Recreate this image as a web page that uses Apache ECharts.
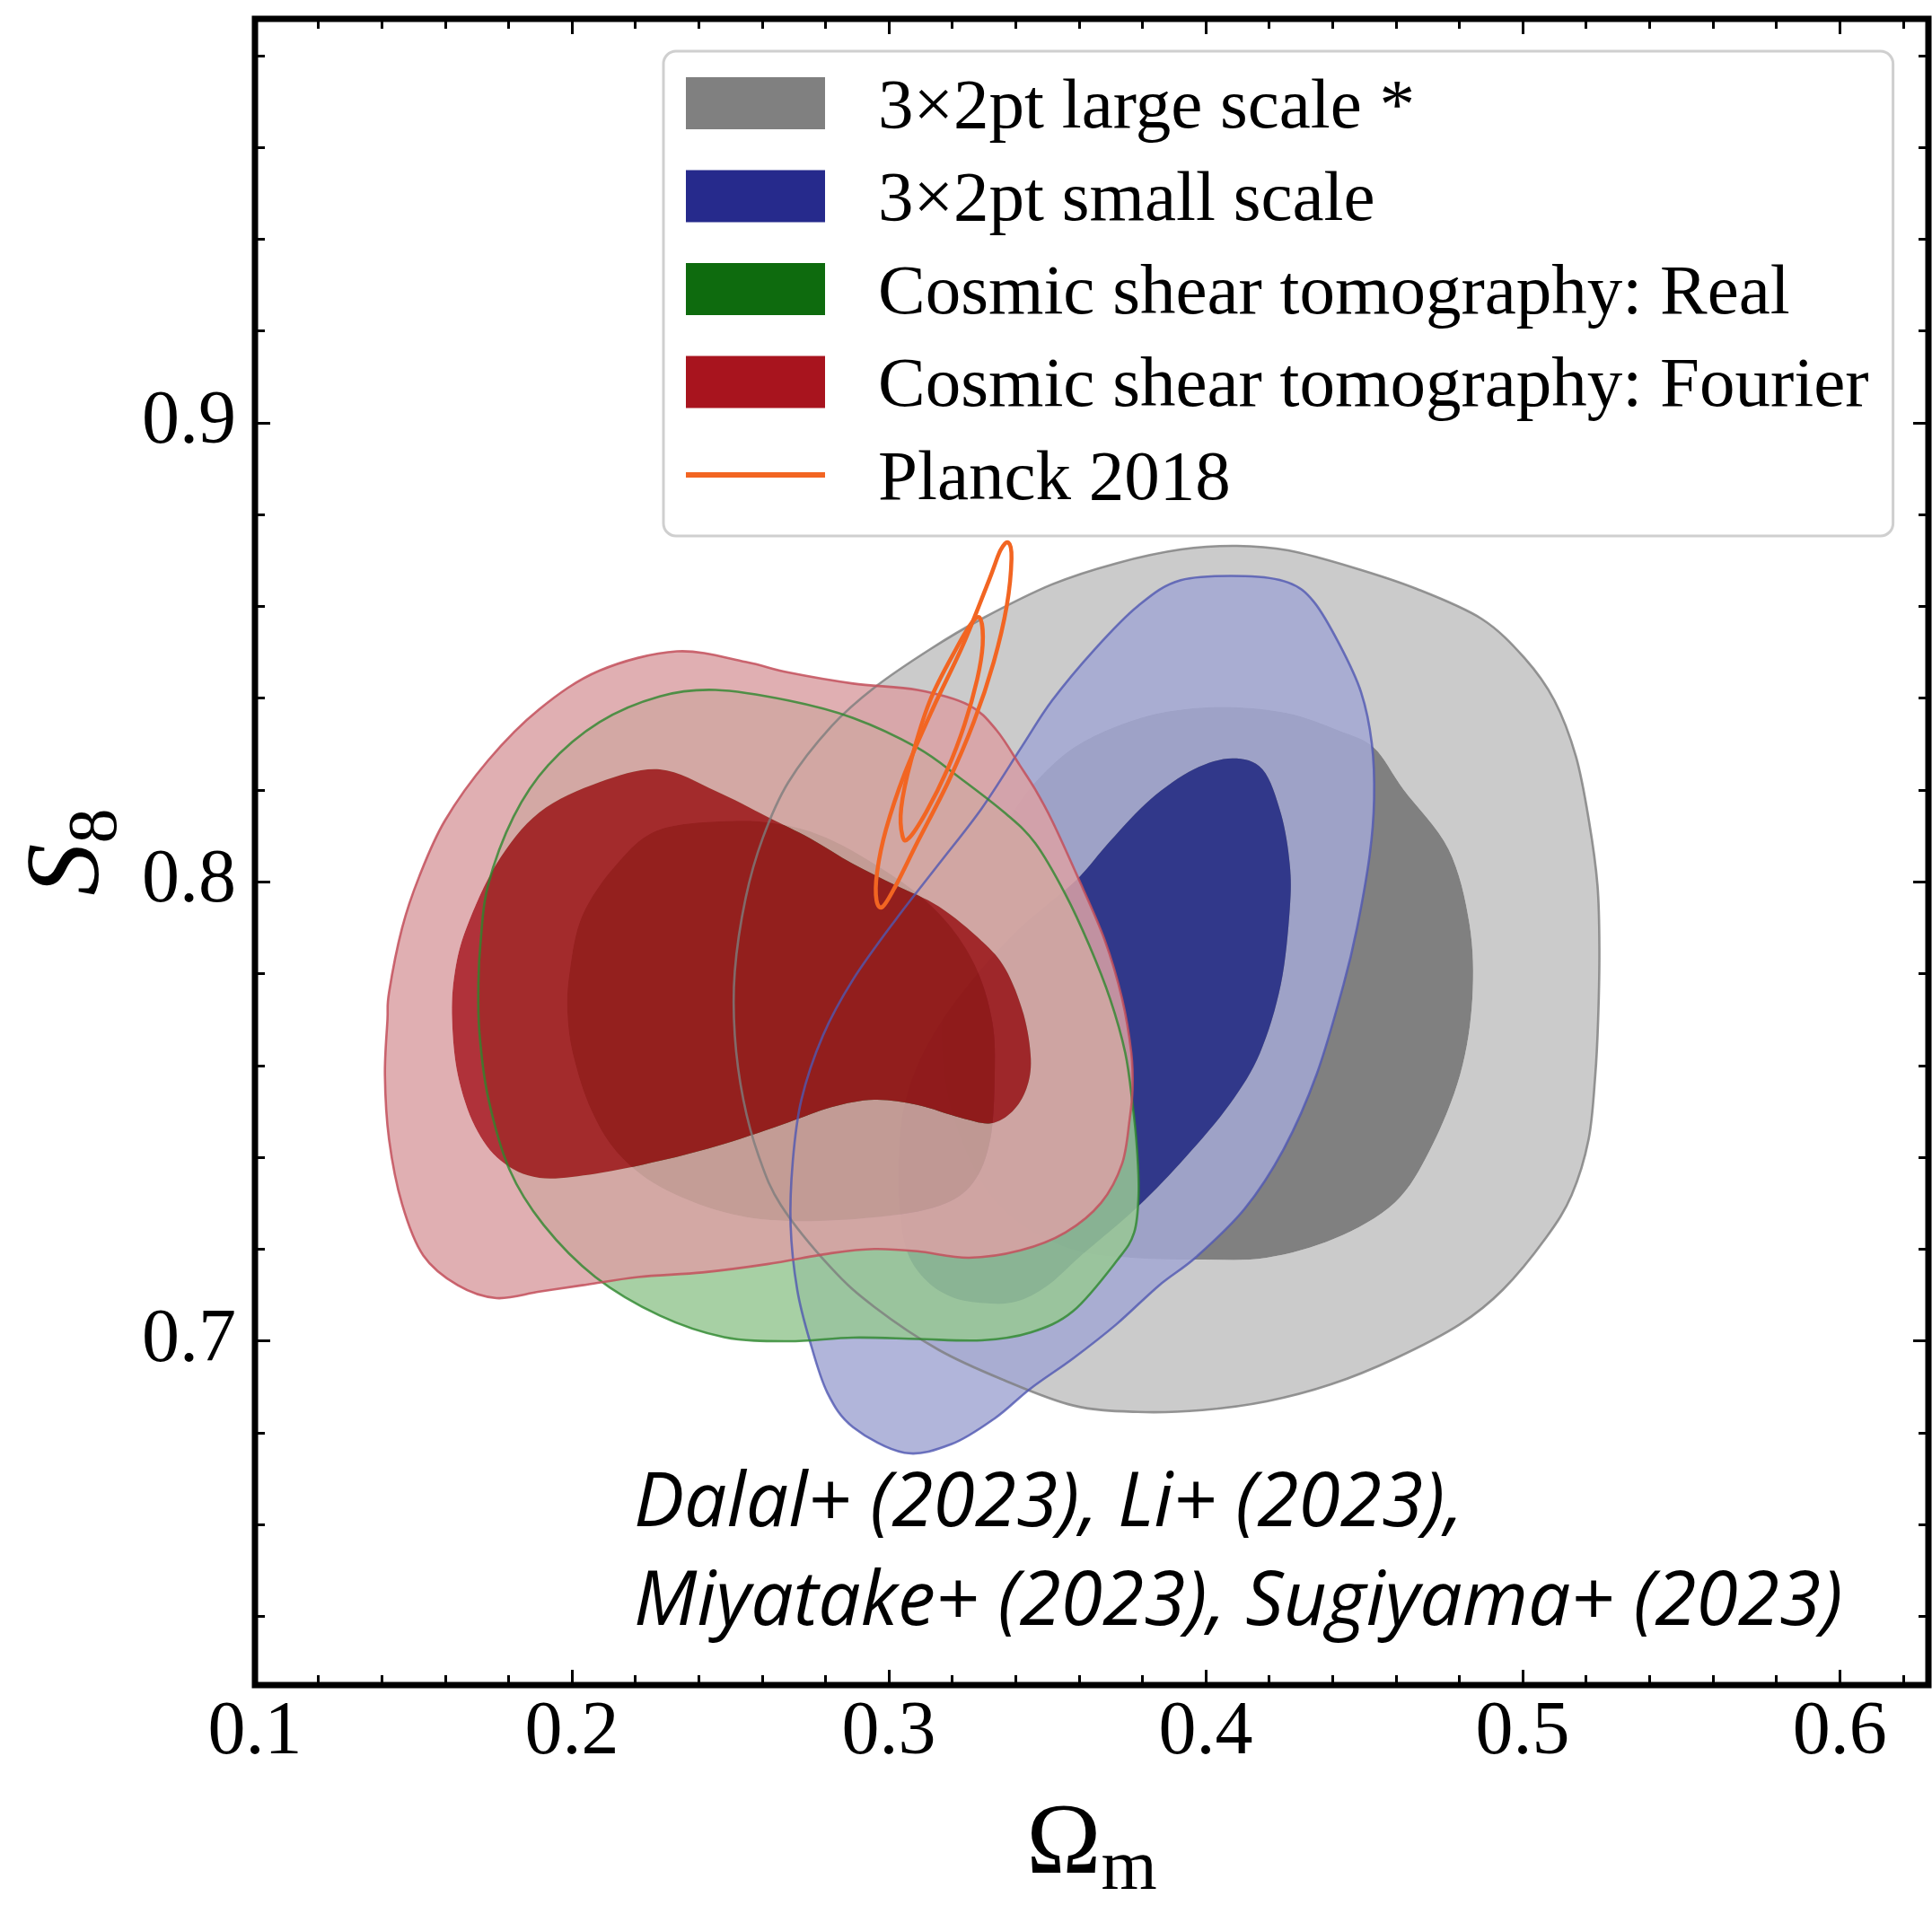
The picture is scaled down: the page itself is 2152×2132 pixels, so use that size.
<!DOCTYPE html>
<html>
<head>
<meta charset="utf-8">
<script src="https://cdn.jsdelivr.net/npm/echarts@6/dist/echarts.min.js"></script>
<style>
html,body{margin:0;padding:0;background:#fff;}
#chart{width:2152px;height:2132px;}
</style>
</head>
<body>
<div id="chart"></div>
<script>
// ---------- data (Omega_m, S8) ----------
const seriesNames = [
  '3×2pt large scale *',
  '3×2pt small scale',
  'Cosmic shear tomography: Real',
  'Cosmic shear tomography: Fourier',
  'Planck 2018'
];

const xMajorTicks = [0.1, 0.2, 0.3, 0.4, 0.5, 0.6];
const xMinorTicks = [0.12,0.14,0.16,0.18,0.22,0.24,0.26,0.28,0.32,0.34,0.36,0.38,0.42,0.44,0.46,0.48,0.52,0.54,0.56,0.58,0.62];
const yMajorTicks = [0.7, 0.8, 0.9];
const yMinorTicks = [0.64,0.66,0.68,0.72,0.74,0.76,0.78,0.82,0.84,0.86,0.88,0.92,0.94,0.96,0.98];

const largeOuter = [[0.4097,0.8732],[0.3921,0.8724],[0.3718,0.8694],[0.3515,0.8648],[0.3293,0.8573],[0.3131,0.8507],[0.2954,0.8423],[0.2819,0.8339],[0.2683,0.8217],[0.2602,0.8095],[0.2548,0.7964],[0.2514,0.7805],[0.2514,0.7665],[0.2541,0.7525],[0.2589,0.7403],[0.2660,0.7295],[0.2819,0.7158],[0.2954,0.7074],[0.3158,0.6980],[0.3361,0.6915],[0.3582,0.6859],[0.3785,0.6845],[0.3989,0.6849],[0.4192,0.6868],[0.4395,0.6905],[0.4599,0.6962],[0.4802,0.7036],[0.4937,0.7111],[0.5073,0.7224],[0.5154,0.7317],[0.5208,0.7439],[0.5229,0.7579],[0.5238,0.7700],[0.5242,0.7852],[0.5236,0.7992],[0.5209,0.8133],[0.5168,0.8273],[0.5100,0.8395],[0.5005,0.8488],[0.4870,0.8573],[0.4666,0.8638],[0.4463,0.8685],[0.4260,0.8722]];
const largeInner = [[0.4070,0.8381],[0.4260,0.8367],[0.4422,0.8329],[0.4531,0.8292],[0.4624,0.8201],[0.4766,0.8071],[0.4832,0.7908],[0.4841,0.7745],[0.4803,0.7581],[0.4709,0.7418],[0.4596,0.7301],[0.4407,0.7223],[0.4192,0.7181],[0.3989,0.7177],[0.3780,0.7180],[0.3600,0.7195],[0.3450,0.7240],[0.3330,0.7310],[0.3240,0.7420],[0.3180,0.7560],[0.3170,0.7720],[0.3210,0.7880],[0.3300,0.8040],[0.3400,0.8160],[0.3474,0.8226],[0.3582,0.8292],[0.3718,0.8339],[0.3880,0.8371]];

const smallOuter = [[0.4124,0.8666],[0.4260,0.8652],[0.4341,0.8610],[0.4422,0.8517],[0.4490,0.8413],[0.4524,0.8301],[0.4531,0.8180],[0.4517,0.8058],[0.4477,0.7899],[0.4435,0.7777],[0.4350,0.7581],[0.4246,0.7418],[0.4123,0.7288],[0.3972,0.7184],[0.3853,0.7121],[0.3718,0.7036],[0.3582,0.6962],[0.3447,0.6896],[0.3334,0.6831],[0.3198,0.6775],[0.3049,0.6756],[0.2887,0.6812],[0.2806,0.6887],[0.2751,0.6999],[0.2711,0.7111],[0.2690,0.7252],[0.2697,0.7392],[0.2724,0.7525],[0.2792,0.7665],[0.2887,0.7787],[0.3022,0.7918],[0.3158,0.8039],[0.3293,0.8160],[0.3420,0.8295],[0.3515,0.8395],[0.3650,0.8507],[0.3786,0.8601],[0.3921,0.8657]];
const smallInner = [[0.4084,0.8269],[0.4179,0.8245],[0.4237,0.8149],[0.4265,0.8038],[0.4265,0.7940],[0.4237,0.7777],[0.4171,0.7627],[0.4076,0.7516],[0.3935,0.7399],[0.3788,0.7294],[0.3604,0.7184],[0.3500,0.7120],[0.3400,0.7085],[0.3300,0.7082],[0.3200,0.7095],[0.3120,0.7130],[0.3060,0.7190],[0.3035,0.7280],[0.3032,0.7400],[0.3045,0.7500],[0.3090,0.7600],[0.3170,0.7700],[0.3280,0.7800],[0.3400,0.7890],[0.3500,0.7950],[0.3599,0.8009],[0.3700,0.8090],[0.3826,0.8180],[0.3962,0.8245]];

const realOuter = [[0.2453,0.8418],[0.2683,0.8395],[0.2887,0.8357],[0.3090,0.8292],[0.3225,0.8226],[0.3368,0.8149],[0.3462,0.8084],[0.3557,0.7973],[0.3632,0.7862],[0.3698,0.7745],[0.3746,0.7627],[0.3769,0.7516],[0.3783,0.7418],[0.3788,0.7321],[0.3774,0.7236],[0.3720,0.7175],[0.3582,0.7065],[0.3447,0.7018],[0.3293,0.7001],[0.3090,0.7004],[0.2887,0.7007],[0.2683,0.6999],[0.2480,0.7008],[0.2277,0.7055],[0.2074,0.7139],[0.1911,0.7252],[0.1803,0.7373],[0.1735,0.7532],[0.1708,0.7673],[0.1705,0.7780],[0.1712,0.7870],[0.1735,0.7992],[0.1816,0.8142],[0.1925,0.8254],[0.2087,0.8348],[0.2277,0.8404]];
const realInner = [[0.2521,0.8133],[0.2683,0.8122],[0.2819,0.8091],[0.2954,0.8039],[0.3090,0.7974],[0.3198,0.7899],[0.3280,0.7805],[0.3327,0.7693],[0.3334,0.7579],[0.3320,0.7439],[0.3266,0.7345],[0.3158,0.7294],[0.2954,0.7269],[0.2683,0.7261],[0.2480,0.7280],[0.2277,0.7336],[0.2142,0.7411],[0.2060,0.7504],[0.2006,0.7617],[0.1986,0.7712],[0.1993,0.7805],[0.2033,0.7927],[0.2142,0.8039],[0.2277,0.8114]];

const fourierOuter = [[0.2331,0.8502],[0.2548,0.8479],[0.2683,0.8456],[0.2887,0.8432],[0.3090,0.8418],[0.3252,0.8385],[0.3340,0.8330],[0.3413,0.8254],[0.3462,0.8201],[0.3515,0.8133],[0.3595,0.8012],[0.3680,0.7875],[0.3736,0.7745],[0.3765,0.7627],[0.3769,0.7549],[0.3760,0.7484],[0.3736,0.7386],[0.3670,0.7301],[0.3557,0.7236],[0.3415,0.7197],[0.3252,0.7181],[0.3090,0.7195],[0.2954,0.7200],[0.2819,0.7191],[0.2616,0.7167],[0.2412,0.7149],[0.2209,0.7139],[0.2033,0.7121],[0.1897,0.7107],[0.1762,0.7093],[0.1640,0.7121],[0.1531,0.7186],[0.1464,0.7298],[0.1423,0.7439],[0.1410,0.7579],[0.1418,0.7700],[0.1423,0.7759],[0.1464,0.7899],[0.1518,0.8011],[0.1599,0.8133],[0.1735,0.8264],[0.1897,0.8376],[0.2087,0.8460]];
const fourierInner = [[0.2277,0.8245],[0.2453,0.8198],[0.2616,0.8142],[0.2751,0.8095],[0.2887,0.8039],[0.3022,0.7992],[0.3158,0.7946],[0.3293,0.7871],[0.3368,0.7810],[0.3425,0.7712],[0.3448,0.7614],[0.3434,0.7549],[0.3390,0.7500],[0.3321,0.7474],[0.3226,0.7486],[0.3090,0.7514],[0.2954,0.7525],[0.2819,0.7509],[0.2683,0.7476],[0.2480,0.7429],[0.2277,0.7392],[0.2074,0.7364],[0.1897,0.7355],[0.1776,0.7392],[0.1694,0.7467],[0.1640,0.7579],[0.1622,0.7700],[0.1630,0.7800],[0.1667,0.7899],[0.1762,0.8039],[0.1897,0.8151],[0.2087,0.8217]];

const planckOuter = [[0.3377,0.8739],[0.3387,0.8704],[0.3372,0.8601],[0.3331,0.8479],[0.3268,0.8348],[0.3187,0.8217],[0.3090,0.8086],[0.3022,0.7992],[0.2981,0.7946],[0.2961,0.7960],[0.2963,0.8021],[0.2991,0.8114],[0.3050,0.8236],[0.3138,0.8376],[0.3234,0.8516],[0.3316,0.8657],[0.3352,0.8722]];
const planckInner = [[0.3290,0.8571],[0.3296,0.8516],[0.3279,0.8442],[0.3239,0.8343],[0.3185,0.8245],[0.3117,0.8151],[0.3063,0.8095],[0.3043,0.8100],[0.3039,0.8161],[0.3070,0.8264],[0.3130,0.8395],[0.3212,0.8507],[0.3266,0.8568]];

const annotationLines = ['Dalal+ (2023), Li+ (2023),', 'Miyatake+ (2023), Sugiyama+ (2023)'];

// ---------- styling ----------
const legendColors = ['#808080', '#262a8c', '#0e6b0e', '#a8141e', '#f26522'];
const groups = [
  {name: seriesNames[0], outer: largeOuter, inner: largeInner, ring: '#cbcbcb', core: '#808080', line: 'rgba(125,125,125,0.8)'},
  {name: seriesNames[1], outer: smallOuter, inner: smallInner, ring: 'rgba(163,168,212,0.85)', core: 'rgba(35,43,140,0.85)', line: 'rgba(80,88,178,0.8)'},
  {name: seriesNames[2], outer: realOuter, inner: realInner, ring: 'rgba(152,200,148,0.85)', core: 'rgba(36,112,36,0.85)', line: 'rgba(45,135,45,0.8)'},
  {name: seriesNames[3], outer: fourierOuter, inner: fourierInner, ring: 'rgba(219,161,164,0.85)', core: 'rgba(162,14,23,0.85)', line: 'rgba(195,80,92,0.85)'}
];

// closed Catmull-Rom curve through pixel points -> SVG path data
function closedCurve(px) {
  const n = px.length;
  let d = 'M' + px[0][0].toFixed(2) + ' ' + px[0][1].toFixed(2);
  for (let i = 0; i < n; i++) {
    const p0 = px[(i - 1 + n) % n], p1 = px[i], p2 = px[(i + 1) % n], p3 = px[(i + 2) % n];
    const c = [p1[0] + (p2[0] - p0[0]) / 6, p1[1] + (p2[1] - p0[1]) / 6,
               p2[0] - (p3[0] - p1[0]) / 6, p2[1] - (p3[1] - p1[1]) / 6, p2[0], p2[1]];
    d += 'C' + c.map(function (v) { return v.toFixed(2); }).join(' ');
  }
  return d + 'Z';
}
function signedArea(px) {
  let s = 0;
  for (let i = 0; i < px.length; i++) {
    const a = px[i], b = px[(i + 1) % px.length];
    s += a[0] * b[1] - b[0] * a[1];
  }
  return s;
}

// kind: 'ring' (outer minus inner), 'core' (inner), 'edge' (outline)
function contourSeries(name, outer, inner, kind, style, color) {
  return {
    type: 'custom', name: name, coordinateSystem: 'cartesian2d',
    xAxisIndex: 0, yAxisIndex: 0, data: outer, silent: true, animation: false,
    itemStyle: {color: color},
    renderItem: function (params, api) {
      if (params.dataIndex !== 0) return null;
      const po = outer.map(function (p) { return api.coord(p); });
      let d = closedCurve(po);
      if (kind === 'ring') {
        let pi = inner.map(function (p) { return api.coord(p); });
        if (Math.sign(signedArea(pi)) === Math.sign(signedArea(po))) pi = pi.slice().reverse();
        d += ' ' + closedCurve(pi);
      }
      return {type: 'path', shape: {pathData: d}, style: style};
    }
  };
}

const series = [];
groups.forEach(function (g, i) {
  series.push(contourSeries(g.name, g.outer, g.inner, 'ring', {fill: g.ring, stroke: null}, legendColors[i]));
  series.push(contourSeries(g.name, g.inner, null, 'core', {fill: g.core, stroke: null}, legendColors[i]));
});
groups.forEach(function (g, i) {
  series.push(contourSeries(g.name, g.outer, null, 'edge', {fill: null, stroke: g.line, lineWidth: 2.6}, legendColors[i]));
});
series.push(contourSeries(seriesNames[4], planckOuter, null, 'edge', {fill: null, stroke: '#f26522', lineWidth: 4.5}, legendColors[4]));
series.push(contourSeries(seriesNames[4], planckInner, null, 'edge', {fill: null, stroke: '#f26522', lineWidth: 4.5}, legendColors[4]));

const X_MIN = 0.1, X_MAX = 0.628, Y_MIN = 0.625, Y_MAX = 0.988;
const serif = 'Liberation Serif';
const tickLabelStyle = {fontFamily: serif, fontSize: 84, color: '#000'};

function xAx(grid, pos, ticks, len, labels) {
  return {
    type: 'value', gridIndex: grid, position: pos, min: X_MIN, max: X_MAX,
    axisLine: {show: false},
    splitLine: {show: false},
    axisTick: {show: true, inside: true, length: len, customValues: ticks, lineStyle: {color: '#000', width: 3}},
    axisLabel: labels ? Object.assign({show: true, customValues: ticks, margin: 12, formatter: function (v) { return v.toFixed(1); }}, tickLabelStyle) : {show: false}
  };
}
function yAx(grid, pos, ticks, len, labels) {
  return {
    type: 'value', gridIndex: grid, position: pos, min: Y_MIN, max: Y_MAX,
    axisLine: {show: false},
    splitLine: {show: false},
    axisTick: {show: true, inside: true, length: len, customValues: ticks, lineStyle: {color: '#000', width: 3}},
    axisLabel: labels ? Object.assign({show: true, customValues: ticks, margin: 21, formatter: function (v) { return v.toFixed(1); }}, tickLabelStyle) : {show: false}
  };
}

const xAxes = [xAx(0, 'bottom', xMajorTicks, 17, true), xAx(0, 'top', xMajorTicks, 17, false), xAx(1, 'bottom', xMinorTicks, 11, false), xAx(1, 'top', xMinorTicks, 11, false)];
const yAxes = [yAx(0, 'left', yMajorTicks, 17, true), yAx(0, 'right', yMajorTicks, 17, false), yAx(1, 'left', yMinorTicks, 11, false), yAx(1, 'right', yMinorTicks, 11, false)];

Object.assign(xAxes[0], {
  name: '{o|Ω}{m|m}', nameLocation: 'middle', nameGap: 134,
  nameTextStyle: {rich: {
    o: {fontFamily: serif, fontSize: 112, lineHeight: 112, padding: [0, 0, 10, 0], verticalAlign: 'bottom', color: '#000'},
    m: {fontFamily: serif, fontSize: 80, lineHeight: 80, verticalAlign: 'bottom', color: '#000'}
  }}
});
Object.assign(yAxes[0], {
  name: '{s|S}{n|8}', nameLocation: 'middle', nameGap: 136, nameRotate: 90,
  nameTextStyle: {rich: {
    s: {fontFamily: serif, fontStyle: 'italic', fontSize: 116, lineHeight: 116, padding: [0, 0, 11, 0], verticalAlign: 'bottom', color: '#000'},
    n: {fontFamily: serif, fontSize: 78, lineHeight: 78, verticalAlign: 'bottom', color: '#000'}
  }}
});

// legend icons: visible patch in the top 58px of a 209x70 box (text is centred on 35)
const RECT_ICON = 'path://M0 0L155 0L155 58L0 58Z M209 70L209 70L209 70Z';
const LINE_ICON = 'path://M0 26L155 26L155 32L0 32Z M0 0L0 0L0 0Z M209 70L209 70L209 70Z';

const option = {
  backgroundColor: '#ffffff',
  animation: false,
  grid: [
    {left: 284, right: 4, top: 21, bottom: 255, show: true, borderColor: '#000', borderWidth: 7, backgroundColor: 'transparent', containLabel: false},
    {left: 284, right: 4, top: 21, bottom: 255, show: false, containLabel: false}
  ],
  xAxis: xAxes,
  yAxis: yAxes,
  legend: {
    orient: 'vertical', left: 739, top: 57,
    padding: [24.5, 27, 22.5, 25],
    itemWidth: 209, itemHeight: 70, itemGap: 24.5,
    backgroundColor: 'rgba(255,255,255,0.85)', borderColor: '#cfcfcf', borderWidth: 3, borderRadius: 14,
    selectedMode: false,
    textStyle: {fontFamily: serif, fontSize: 79, color: '#000'},
    data: seriesNames.map(function (n, i) {
      return {name: n, icon: i === 4 ? LINE_ICON : RECT_ICON, itemStyle: {color: legendColors[i], borderWidth: 0}};
    })
  },
  graphic: [
    {type: 'text', left: 706, top: 1634, silent: true,
     style: {text: annotationLines[0], font: 'italic 500 84px "Open Sans"', fill: '#000'}},
    {type: 'text', left: 706, top: 1744, silent: true,
     style: {text: annotationLines[1], font: 'italic 500 84px "Open Sans"', fill: '#000'}}
  ],
  series: series
};

const chart = echarts.init(document.getElementById('chart'), null, {renderer: 'canvas', width: 2152, height: 2132});
chart.setOption(option);
</script>
</body>
</html>
